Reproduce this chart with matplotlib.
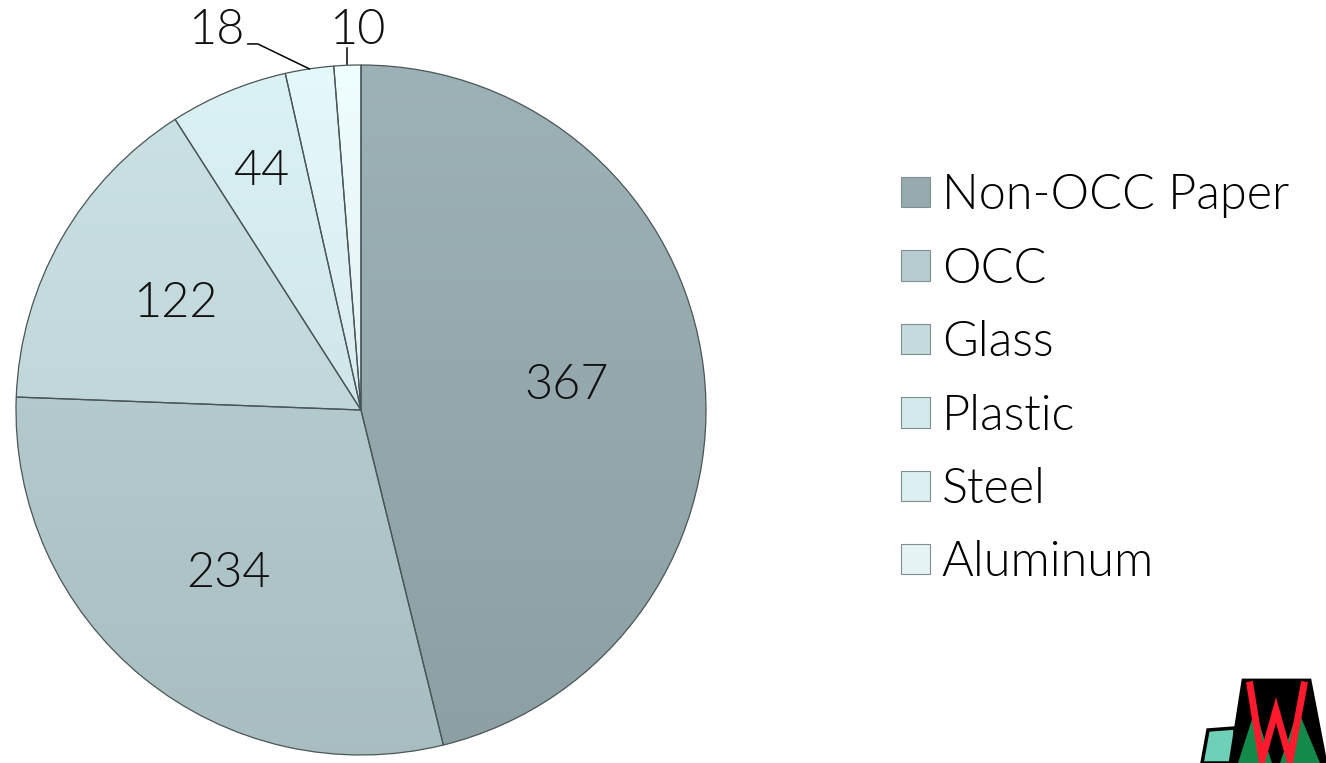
import numpy as np
import matplotlib.pyplot as plt
import matplotlib.colors as mcolors
from matplotlib.patches import Polygon

categories = ["Non-OCC Paper", "OCC", "Glass", "Plastic", "Steel", "Aluminum"]
values = [367, 234, 122, 44, 18, 10]
colors = ["#97abaf", "#b6cccf", "#c4dadc", "#d3e9eb", "#ddeff0", "#e6f4f5"]
# radial position of each value label (None = outside with leader line)
label_r = [0.60, 0.61, 0.62, 0.75, None, None]

plt.rcParams["font.family"] = ["Lato", "DejaVu Sans"]

W, H = 1326, 763
fig = plt.figure(figsize=(W / 100, H / 100), dpi=100)

cx, cy, R = 361, 410, 345
ax = fig.add_axes([(cx - R) / W, (H - cy - R) / H, 2 * R / W, 2 * R / H])
wedges, _ = ax.pie(values, colors=colors, startangle=90, counterclock=False,
                   radius=1.0,
                   wedgeprops=dict(edgecolor="#4a5558", linewidth=0.9))
ax.set_xlim(-1, 1)
ax.set_ylim(-1, 1)
ax.set_aspect("equal")
ax.axis("off")

# soft vertical shading inside each wedge
shade = np.linspace(0.93, 1.04, 256)[:, None]
for w, c in zip(wedges, colors):
    rgb = np.array(mcolors.to_rgb(c))
    img = np.clip(shade[..., None] * rgb[None, None, :], 0, 1)
    im = ax.imshow(img, extent=(-1, 1, -1, 1), origin="lower",
                   aspect="auto", zorder=w.get_zorder() - 0.1,
                   interpolation="bilinear")
    im.set_clip_path(w)
    w.set_facecolor("none")
ax.set_xlim(-1, 1)
ax.set_ylim(-1, 1)

fs = 35
tw = 300
for i, (w, v) in enumerate(zip(wedges, values)):
    mid = np.deg2rad((w.theta1 + w.theta2) / 2)
    if label_r[i] is not None:
        ax.text(label_r[i] * np.cos(mid), label_r[i] * np.sin(mid), str(v),
                ha="center", va="center", fontsize=fs, fontweight=tw,
                color="#111111")
    else:
        px, py = np.cos(mid), np.sin(mid)
        if i == 4:
            ax.text(-0.42, 1.10, str(v), ha="center", va="center",
                    fontsize=fs, fontweight=tw, color="#111111",
                    clip_on=False)
            ax.plot([-0.328, -0.299, px], [1.061, 1.061, py],
                    color="black", lw=1.1, clip_on=False)
        else:
            ax.text(-0.012, 1.10, str(v), ha="center", va="center",
                    fontsize=fs, fontweight=tw, color="#111111",
                    clip_on=False)
            ax.plot([px, px], [py + 0.004, py + 0.05], color="black", lw=1.1,
                    clip_on=False)

fig.legend(wedges, categories, loc="upper left",
           bbox_to_anchor=(877 / W, 1 - 149 / H), frameon=False,
           handlelength=0.58, handleheight=0.58,
           handletextpad=0.25, labelspacing=0.585, borderpad=0,
           prop=dict(size=fs, weight=tw))
leg = fig.legends[0]
for h, c in zip(leg.legend_handles, colors):
    h.set_facecolor(c)
    h.set_edgecolor("#7d8f92")
    h.set_linewidth(0.8)

# partial logo in the bottom-right corner
lax = fig.add_axes([1180 / W, 0, 146 / W, 133 / H])
lax.set_xlim(0, 146)
lax.set_ylim(133, 0)
lax.axis("off")
lax.add_patch(Polygon([[28, 100], [55, 98], [55, 133], [22, 133]],
                      closed=True, fc="#6fd0b8", ec="black", lw=2.5))
lax.add_patch(Polygon([[63, 50], [130, 50], [146, 133], [50, 133]],
                      closed=True, fc="black", ec="black", lw=2))
lax.add_patch(Polygon([[58, 133], [75, 80], [92, 133]], closed=True,
                      fc="#138a4a", ec="none"))
lax.add_patch(Polygon([[100, 133], [118, 80], [140, 133]], closed=True,
                      fc="#138a4a", ec="none"))
lax.plot([70, 82, 96, 110, 124], [55, 130, 80, 130, 55], color="#ff1a2e",
         lw=5, solid_joinstyle="miter")

fig.savefig("out.png", dpi=100)
